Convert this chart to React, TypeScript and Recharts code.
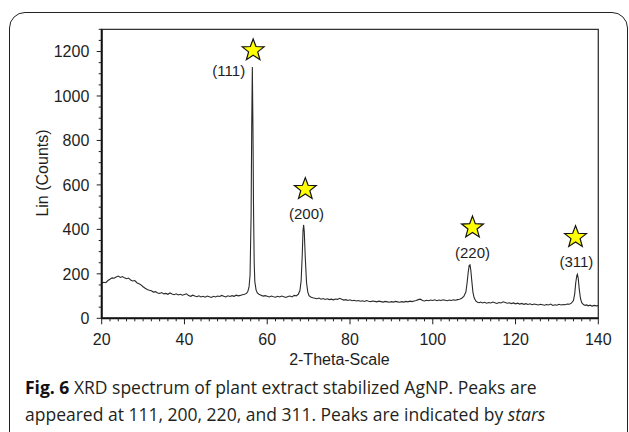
import React from 'react';
import { ComposedChart, Line, XAxis, YAxis, ReferenceDot, ReferenceArea } from 'recharts';

const twoTheta = [
  20, 20.5, 21, 21.5, 22, 22.5, 23, 23.5, 24, 24.5,
  25, 25.5, 26, 26.5, 27, 27.5, 28, 28.5, 29, 29.5,
  30, 30.5, 31, 31.5, 32, 32.5, 33, 33.5, 34, 34.5,
  35, 35.5, 36, 36.5, 37, 37.5, 38, 38.5, 39, 39.5,
  40, 40.5, 41, 41.5, 42, 42.5, 43, 43.5, 44, 44.5,
  45, 45.5, 46, 46.5, 47, 47.5, 48, 48.5, 49, 49.5,
  50, 50.5, 51, 51.5, 52, 52.5, 53, 53.5, 54, 54.5,
  55, 55.3, 55.6, 55.85, 56.1, 56.25, 56.4, 56.55, 56.7, 56.85,
  57, 57.3, 57.6, 58, 58.5, 59, 59.5, 60, 60.5, 61,
  61.5, 62, 62.5, 63, 63.5, 64, 64.5, 65, 65.5, 66,
  66.5, 67, 67.5, 67.9, 68.2, 68.45, 68.65, 68.8, 68.95, 69.2,
  69.5, 69.8, 70.1, 70.5, 71, 71.5, 72, 72.5, 73, 73.5,
  74, 74.5, 75, 75.5, 76, 76.5, 77, 77.5, 78, 78.5,
  79, 79.5, 80, 80.5, 81, 81.5, 82, 82.5, 83, 83.5,
  84, 84.5, 85, 85.5, 86, 86.5, 87, 87.5, 88, 88.5,
  89, 89.5, 90, 90.5, 91, 91.5, 92, 92.5, 93, 93.5,
  94, 94.5, 95, 95.5, 96, 96.5, 97, 97.5, 98, 98.5,
  99, 99.5, 100, 100.5, 101, 101.5, 102, 102.5, 103, 103.5,
  104, 104.5, 105, 105.5, 106, 106.5, 107, 107.5, 108, 108.3,
  108.55, 108.8, 109, 109.2, 109.45, 109.7, 110, 110.4, 110.8, 111.2,
  111.6, 112, 112.5, 113, 113.5, 114, 114.5, 115, 115.5, 116,
  116.5, 117, 117.5, 118, 118.5, 119, 119.5, 120, 120.5, 121,
  121.5, 122, 122.5, 123, 123.5, 124, 124.5, 125, 125.5, 126,
  126.5, 127, 127.5, 128, 128.5, 129, 129.5, 130, 130.5, 131,
  131.5, 132, 132.5, 133, 133.5, 134, 134.3, 134.55, 134.8, 134.95,
  135.15, 135.4, 135.7, 136, 136.4, 136.8, 137.2, 137.6, 138, 138.5,
  139, 139.5, 140,
];

const counts = [
  158, 162, 160, 170, 176, 182, 180, 186, 190, 184,
  188, 182, 178, 181, 172, 168, 170, 160, 156, 150,
  142, 135, 130, 126, 124, 118, 120, 114, 112, 116,
  110, 112, 108, 114, 109, 106, 110, 105, 108, 104,
  107, 110, 102, 99, 104, 100, 97, 101, 96, 99,
  95, 100, 97, 94, 99, 96, 100, 98, 103, 99,
  96, 101, 98, 102, 99, 104, 101, 103, 106, 108,
  112, 120, 140, 195, 460, 860, 1130, 860, 470, 250,
  165, 128, 114, 108, 104, 100, 102, 99, 96, 100,
  97, 95, 99, 96, 100, 97, 94, 98, 100, 96,
  103, 101, 108, 125, 170, 280, 395, 420, 390, 270,
  160, 118, 102, 96, 92, 90, 88, 91, 86, 89,
  85, 88, 84, 86, 83, 87, 85, 90, 86, 82,
  84, 80, 83, 79, 81, 78, 80, 77, 79, 76,
  80, 77, 75, 78, 76, 74, 77, 75, 73, 76,
  74, 72, 75, 73, 76, 74, 72, 75, 73, 76,
  74, 77, 75, 78, 80, 84, 86, 80, 78, 81,
  79, 82, 80, 83, 79, 82, 80, 83, 81, 79,
  82, 80, 83, 81, 84, 86, 90, 98, 118, 160,
  205, 238, 240, 215, 165, 118, 92, 78, 72, 70,
  73, 69, 72, 68, 71, 69, 73, 70, 67, 71,
  69, 74, 71, 68, 70, 66, 69, 65, 68, 64,
  67, 63, 66, 62, 65, 61, 64, 62, 60, 63,
  61, 59, 62, 60, 64, 58, 61, 59, 63, 60,
  62, 61, 64, 63, 68, 80, 110, 160, 192, 198,
  180, 130, 88, 70, 62, 58, 60, 56, 59, 55,
  58, 56, 57,
];

const xTicks = [
  20, 22, 24, 26, 28, 30, 32, 34, 36, 38, 40, 42, 44, 46, 48, 50, 52, 54, 56, 58,
  60, 62, 64, 66, 68, 70, 72, 74, 76, 78, 80, 82, 84, 86, 88, 90, 92, 94, 96, 98,
  100, 102, 104, 106, 108, 110, 112, 114, 116, 118, 120, 122, 124, 126, 128, 130,
  132, 134, 136, 138, 140,
];
const xLabelTicks = [20, 40, 60, 80, 100, 120, 140];

const yTicks = [
  0, 50, 100, 150, 200, 250, 300, 350, 400, 450, 500, 550, 600, 650, 700, 750,
  800, 850, 900, 950, 1000, 1050, 1100, 1150, 1200, 1250, 1300,
];
const yLabelTicks = [0, 200, 400, 600, 800, 1000, 1200];

const peakLabels = ['(111)', '(200)', '(220)', '(311)'];
const starX = [56.6, 69.2, 109.6, 134.5];
const starY = [1205, 581, 408, 365];
const labelX = [50.7, 69.5, 109.6, 134.7];
const labelY = [1113, 473, 294, 254];

const data = twoTheta.map((t, i) => ({ t, c: counts[i] }));

const FONT = "'Liberation Sans', Arial, Helvetica, sans-serif";
const INK = '#1e1e1e';

const XTick = (props: any) => {
  const { x, y, payload } = props;
  const v = payload.value;
  const major = xLabelTicks.includes(v);
  return (
    <g>
      <line x1={x} x2={x} y1={y} y2={y + (major ? 6 : 3)} stroke={INK} strokeWidth={1} />
      {major && (
        <text x={x} y={y + 27} textAnchor="middle" fontSize={16} fill={INK} fontFamily={FONT}>
          {v}
        </text>
      )}
    </g>
  );
};

const YTick = (props: any) => {
  const { x, y, payload } = props;
  const v = payload.value;
  const major = yLabelTicks.includes(v);
  return (
    <g>
      <line x1={x - (major ? 5 : 3)} x2={x} y1={y} y2={y} stroke={INK} strokeWidth={1} />
      {major && (
        <text x={x - 12.4} y={y} dy="0.36em" textAnchor="end" fontSize={16} fill={INK} fontFamily={FONT}>
          {v}
        </text>
      )}
    </g>
  );
};

const starPoints = (cx: number, cy: number, R: number, r: number) => {
  const pts: string[] = [];
  for (let k = 0; k < 10; k++) {
    const rad = k % 2 === 0 ? R : r;
    const a = -Math.PI / 2 + (k * Math.PI) / 5;
    pts.push(`${cx + rad * Math.cos(a)},${cy + rad * Math.sin(a)}`);
  }
  return pts.join(' ');
};

const StarShape = (props: any) => {
  const { cx, cy } = props;
  return <polygon points={starPoints(cx, cy, 11.5, 4.8)} fill="#ffff00" stroke="#111" strokeWidth={1.2} strokeLinejoin="miter" />;
};

const makeLabelShape = (text: string) => (props: any) => {
  const { cx, cy } = props;
  return (
    <text x={cx} y={cy} dy="0.36em" textAnchor="middle" fontSize={15} fill={INK} fontFamily={FONT}>
      {text}
    </text>
  );
};

const YLabel = (p: any) => {
  const vb = p && p.viewBox ? p.viewBox : { x: 0, y: 29.3, width: 101.7, height: 289 };
  const x = vb.x + 42;
  const y = vb.y + vb.height / 2 - 0.8;
  return (
    <text x={x} y={y} dy="0.36em" textAnchor="middle" transform={`rotate(-90, ${x}, ${y})`} fontSize={16} fill={INK} fontFamily={FONT}>
      Lin (Counts)
    </text>
  );
};

const XLabel = (p: any) => {
  const vb = p && p.viewBox ? p.viewBox : { x: 101.7, y: 318.3, width: 496.6, height: 60 };
  const x = vb.x + vb.width / 2 - 10.6;
  const y = vb.y + 41;
  return (
    <text x={x} y={y} dy="0.36em" textAnchor="middle" fontSize={16} fill={INK} fontFamily={FONT}>
      2-Theta-Scale
    </text>
  );
};

export default function App() {
  return (
    <div
      style={{
        position: 'fixed',
        left: 0,
        top: 0,
        width: 629,
        height: 432,
        background: '#fff',
        overflow: 'hidden',
      }}
    >
      <div
        style={{
          position: 'absolute',
          left: 8.5,
          top: 12,
          width: 619,
          height: 460,
          border: '1.4px solid #222',
          borderRadius: 16,
          boxSizing: 'border-box',
        }}
      />
      <div style={{ position: 'absolute', left: 0, top: 0 }}>
        <ComposedChart
          width={629}
          height={432}
          data={data}
          margin={{ top: 29.3, right: 30.7, bottom: 53.7, left: 0 }}
        >
          <ReferenceArea x1={20} x2={140} y1={0} y2={1300} fill="none" stroke="#333" strokeWidth={1.3} ifOverflow="visible" />
          <XAxis
            dataKey="t"
            type="number"
            domain={[20, 140]}
            ticks={xTicks}
            interval={0}
            allowDataOverflow
            tickLine={false}
            tickSize={0}
            tickMargin={0}
            height={60}
            axisLine={{ stroke: '#111', strokeWidth: 2 }}
            tick={(p: any) => <XTick {...p} />}
            label={{ content: XLabel }}
          />
          <YAxis
            type="number"
            domain={[0, 1300]}
            ticks={yTicks}
            interval={0}
            allowDataOverflow
            tickLine={false}
            tickSize={0}
            tickMargin={0}
            width={101.7}
            axisLine={{ stroke: '#111', strokeWidth: 2 }}
            tick={(p: any) => <YTick {...p} />}
            label={{ content: YLabel }}
          />
          <Line
            dataKey="c"
            type="linear"
            dot={false}
            stroke="#2a2a2a"
            strokeWidth={1.1}
            isAnimationActive={false}
          />
          {starX.map((sx, i) => (
            <ReferenceDot key={'s' + i} x={sx} y={starY[i]} r={11} shape={StarShape} ifOverflow="visible" />
          ))}
          {labelX.map((lx, i) => (
            <ReferenceDot key={'l' + i} x={lx} y={labelY[i]} r={1} shape={makeLabelShape(peakLabels[i])} ifOverflow="visible" />
          ))}
        </ComposedChart>
      </div>
      <div
        style={{
          position: 'absolute',
          left: 25,
          top: 374.2,
          fontFamily: "'Open Sans', sans-serif",
          fontSize: 17.5,
          lineHeight: '27px',
          color: '#231f20',
          whiteSpace: 'nowrap',
        }}
      >
        <div>
          <span style={{ fontWeight: 700, color: '#111' }}>Fig. 6</span> XRD spectrum of plant extract stabilized AgNP. Peaks are
        </div>
        <div>
          appeared at 111, 200, 220, and 311. Peaks are indicated by <i>stars</i>
        </div>
      </div>
    </div>
  );
}
